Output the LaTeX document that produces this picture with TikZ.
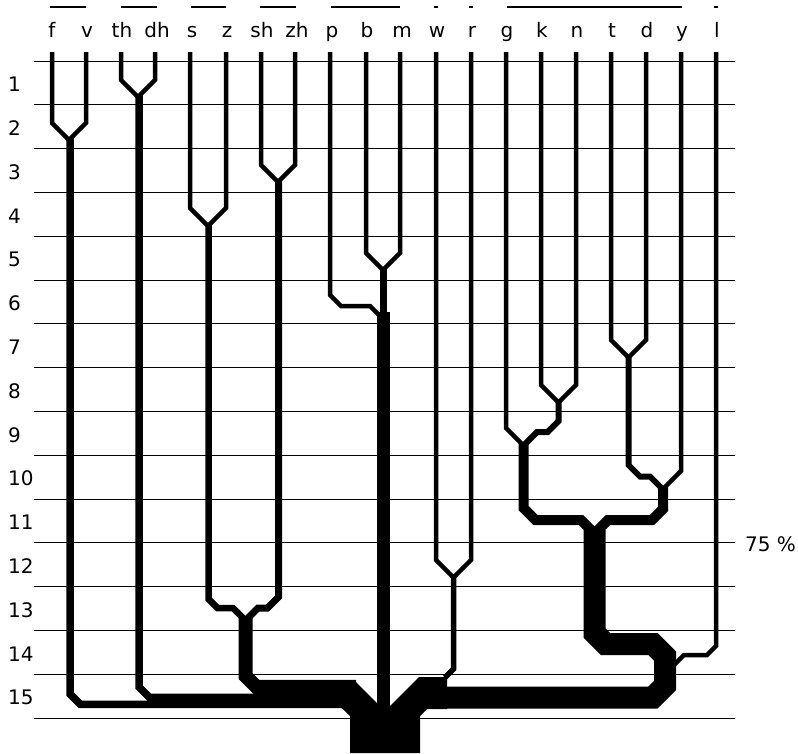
\documentclass[tikz,border=0pt]{standalone}
\usepackage{fontspec}
\setmainfont{DejaVu Sans}
\begin{document}
\begin{tikzpicture}[x=1pt, y=-1pt, line join=miter,
  every node/.style={font=\fontsize{20}{24}\selectfont, inner sep=0pt},
  gridline/.style={line width=0.9pt},
  leaf/.style={line width=4.5pt}]
\useasboundingbox (0,0) rectangle (798,753);
% grid 15 rows
\foreach \k in {0,...,15}
  \draw[gridline] (34,61+43.8*\k) -- (735,61+43.8*\k);
\foreach \r in {1,...,15}
  \node[anchor=west] (row\r) at (8,40.6+43.8*\r) {\r};
\node[anchor=west] (pct) at (745,544) {75 \%};
% phonemes on top
\foreach \s [count=\i from 0] in {f,v,th,dh,s,z,sh,zh,p,b,m,w,r,g,k,n,t,d,y,l}
  \node[anchor=base] (c-\s) at (52+35*\i,37) {\s};
\foreach \a/\b in {50/86, 121/157, 191/226, 260/296, 331/400, 434/438, 469/473, 507/682, 714/718}
  \draw[line width=1.3pt] (\a,7) -- (\b,7);
% pairs joined by a V: left x / right x / bend y
\foreach \a/\b/\yb in {52/86/123, 121/155/80, 190/226/208, 261/295/165, 366/400/253, 436/471/560, 541/576/385, 611/646/340}
  \draw[leaf] (\a,52) -- (\a,\yb) -- ({(\a+\b)/2},{\yb+(\b-\a)/2}) -- (\b,\yb) -- (\b,52);
% f v, th dh
\draw[line width=7.5pt] (70,137) -- (70,694) -- (80.25,704.25) -- (346,704.25);
\draw[line width=7.5pt] (139,95) -- (139,687) -- (149.25,697.25) -- (346,697.25);
% s z, sh zh
\draw[line width=6.5pt] (208.5,224) -- (208.5,599) -- (217.5,608) -- (233,608) -- (245.5,620.5);
\draw[line width=7pt] (278.5,180) -- (278.5,597) -- (267.5,608) -- (258,608) -- (245.5,620.5);
\draw[line width=14pt] (245.5,618) -- (245.5,676) -- (256.25,686.75) -- (356,686.75);
% p b m
\draw[leaf] (330,52) -- (330,295) -- (341,306) -- (370,306) -- (381,317);
\draw[line width=7pt] (383,268) -- (383,318);
\fill (377,312) rectangle (390,712);
% w r
\draw[line width=5.5pt] (453.5,575) -- (453.5,669) -- (445,677.5);
% g k n
\draw[leaf] (506,52) -- (506,428) -- (524,446);
\draw[line width=6pt] (558.5,400) -- (558.5,421) -- (547.5,432) -- (537,432) -- (523.5,445.5);
\draw[line width=10pt] (523.5,443) -- (523.5,508) -- (535.5,520) -- (581,520) -- (594.5,533.5);
% t d y
\draw[leaf] (681,52) -- (681,471) -- (663,489);
\draw[line width=6pt] (628.5,355) -- (628.5,465) -- (640,476.5) -- (650,476.5) -- (663,489.5);
\draw[line width=10pt] (663,487) -- (663,509) -- (652,520) -- (608,520) -- (594.5,533.5);
% l
\draw[leaf] (716,52) -- (716,646) -- (707,655) -- (684,655) -- (673,666);
% g ... l
\draw[line width=22pt] (594.5,530) -- (594.5,633) -- (605.5,644) -- (653,644) -- (665,656) -- (665,685.5) -- (653,697.5) -- (440,697.5);
% root
\fill (340,680) -- (354,680) -- (378,704) -- (390,706) -- (419,677) -- (447,677) -- (447,709) -- (427,709) -- (420,716) -- (420,753) -- (350,753) -- (350,716) -- (342,708) -- (340,708) -- cycle;
\end{tikzpicture}
\end{document}
